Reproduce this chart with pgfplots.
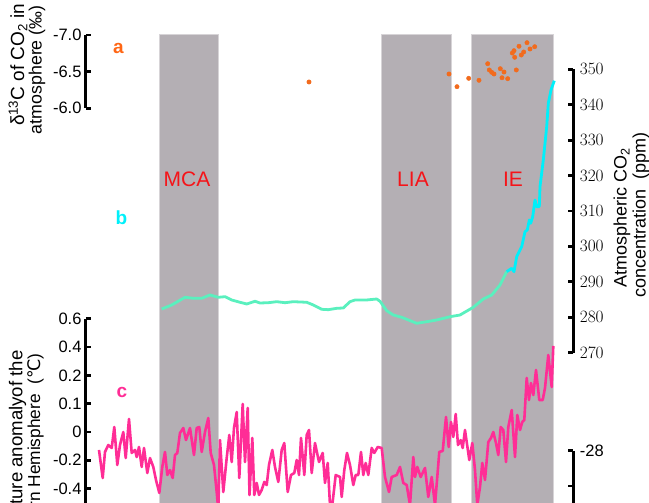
\documentclass[border=0pt]{standalone}
\usepackage{fontspec}
\setmainfont{Liberation Sans}
\newfontfamily\dejavu{DejaVu Sans}
\usepackage{pgfplots}
\pgfplotsset{compat=1.18}
\definecolor{bandgray}{RGB}{180,175,180}
\definecolor{bandedge}{RGB}{215,212,215}
\definecolor{labred}{RGB}{245,20,25}
\definecolor{dotorange}{RGB}{242,107,29}
\definecolor{labelorange}{RGB}{255,102,20}
\definecolor{co2cyan}{RGB}{0,240,250}
\definecolor{co2mint}{RGB}{90,240,190}
\definecolor{tpink}{RGB}{255,45,150}
\pgfplotsset{
  base/.style={scale only axis, enlargelimits=false, clip=false, axis x line=none,
    anchor=south west,
    tick align=inside, major tick length=5.5pt,
    every tick/.style={black, line width=2.8pt},
    axis line style={line width=3pt, black},
    every inner y axis line/.append style={line width=3pt, black},
    every outer y axis line/.append style={line width=3pt, black},
    y axis line style={line width=3pt, black},
    tick label style={font=\fontsize{16.5}{16.5}\selectfont},
    scaled y ticks=false}
}
\begin{document}
\begin{tikzpicture}
\useasboundingbox (0,0) rectangle (649pt,503pt);
\clip (0,0) rectangle (649pt,503pt);
% background: bands and labels
\begin{axis}[at={(0pt,0pt)}, anchor=south west, scale only axis, width=649pt, height=503pt,
  xmin=0, xmax=649, ymin=0, ymax=503, hide axis, clip=false]
\draw[fill=bandgray, draw=bandedge, line width=0.8pt] (axis cs:159.3,-5) rectangle (axis cs:218.3,469);
\draw[fill=bandgray, draw=bandedge, line width=0.8pt] (axis cs:381,-5) rectangle (axis cs:451,469);
\draw[fill=bandgray, draw=bandedge, line width=0.8pt] (axis cs:471.7,-5) rectangle (axis cs:553.3,469);
\node[labred, font=\fontsize{21}{21}\selectfont, anchor=base] at (axis cs:187,316) {MCA};
\node[labred, font=\fontsize{21}{21}\selectfont, anchor=base] at (axis cs:413,316) {LIA};
\node[labred, font=\fontsize{21}{21}\selectfont, anchor=base] at (axis cs:513,316) {IE};
\node[labelorange, font=\fontsize{19}{19}\selectfont\bfseries, anchor=base] at (axis cs:118.5,449) {a};
\node[co2cyan, font=\fontsize{19}{19}\selectfont\bfseries, anchor=base] at (axis cs:121.5,278) {b};
\node[tpink, font=\fontsize{19}{19}\selectfont\bfseries, anchor=base] at (axis cs:122,105) {c};
\node[rotate=90, anchor=east, font=\fontsize{19}{19}\selectfont] at (axis cs:18,503) {δ\textsuperscript{13}C of CO\textsubscript{2} in};
\node[rotate=90, anchor=east, font=\fontsize{17.8}{17.8}\selectfont] at (axis cs:37,501) {atmosphere (‰)};
\node[rotate=90, font=\fontsize{18}{18}\selectfont] at (axis cs:622,285.5) {Atmospheric CO\textsubscript{2}};
\node[rotate=90, font=\fontsize{18}{18}\selectfont] at (axis cs:641,288) {concentration\ \ (ppm)};
\node[rotate=90, anchor=east, font=\fontsize{18.6}{18.6}\selectfont] at (axis cs:17.5,156) {Temperature anomalyof the};
\node[rotate=90, anchor=east, font=\fontsize{17.3}{17.3}\selectfont] at (axis cs:35.5,153) {Northern Hemisphere\ \ ({\dejavu ℃})};
\end{axis}
% (a) delta13C
\begin{axis}[base, at={(86pt,394.7pt)}, width=563pt, height=73.3pt,
  xmin=86, xmax=649, ymin=-7, ymax=-6, y dir=reverse, axis y line*=left,
  ytick={-7,-6.5,-6}, yticklabels={-7.0,-6.5,-6.0},
  yticklabel style={xshift=-1pt}]
\addplot[only marks, mark=*, mark size=2.2pt, color=dotorange] coordinates {
(309,-6.359)(449,-6.468)(457,-6.295)(468.7,-6.409)(479,-6.382)(487.7,-6.608)
(489.3,-6.523)(491.7,-6.491)(494,-6.468)(500.3,-6.540)(504,-6.495)(502,-6.417)
(507.7,-6.404)(516.3,-6.523)(512.3,-6.754)(514,-6.786)(514.7,-6.696)(519,-6.846)
(521.3,-6.727)(523.7,-6.768)(527,-6.895)(530,-6.809)(534.7,-6.840)};
\end{axis}
% (b) CO2
\begin{axis}[base, at={(0pt,150.3pt)}, width=573.3pt, height=283.4pt,
  xmin=0, xmax=573.3, ymin=270, ymax=350, axis y line*=right,
  ytick={270,280,...,350}, yticklabel style={xshift=3pt}]
\addplot[co2mint, line width=2.8pt, line join=round, mark=none] coordinates {
(161.7,282.34)(171.7,283.47)(185,285.64)(193.3,285.36)(201.7,285.36)(210,286.29)
(218.3,285.64)(225,285.81)(231.7,284.88)(240,284.23)(246.7,283.75)(255,284.51)
(260,284.03)(268.3,284.11)(276.7,284.40)(285,284.11)(293.3,284.40)(306.7,284.23)
(313.3,283.47)(321.7,282.25)(328.3,282.14)(336.7,282.53)(343.3,282.62)(350,284.40)
(355,284.88)(366.7,284.88)(376.7,285.16)(380,284.51)(386.7,281.86)(393.3,280.64)
(401.7,279.99)(416.7,278.30)(426.7,278.75)(436.7,279.23)(450,280.16)(460,280.64)
(473.3,282.82)(483.3,285.16)(491.7,286.29)(500,289.11)(506.7,292.87)};
\addplot[co2cyan, line width=2.8pt, line join=round, mark=none] coordinates {
(506.7,292.87)(511.7,293.82)(514,292.87)(516.7,297.10)(521.7,299.92)(525,304.16)
(527.3,304.64)(529.3,307.46)(530.7,306.53)(532.7,308.39)(535,313.10)(536.7,311.21)
(539.3,311.21)(540,316.86)(543.3,324.40)(546.7,333.80)(548.3,340.40)(551,344.16)
(554.3,346.78)};
\end{axis}
% (c) NH temperature anomaly
\begin{axis}[base, at={(86pt,0pt)}, width=563pt, height=184.2pt,
  xmin=86, xmax=649, ymin=-0.5018, ymax=0.8, axis y line*=left,
  ytick={-0.4,-0.2,0,0.2,0.4,0.6,0.8}, yticklabels={-0.4,-0.2,0,0.1,0.2,0.4,0.6},
  yticklabel style={xshift=-1pt}]
\addplot[tpink, line width=2.6pt, line join=round, mark=none] coordinates {
(99,-0.127)(102.7,-0.325)(105,-0.141)(108.3,-0.092)(111.7,-0.113)(114.3,0.035)
(117.3,-0.233)(120,-0.092)(123.3,0)(125.7,-0.184)(129,0.092)(131.7,-0.148)
(135,-0.127)(136.7,-0.177)(139,-0.106)(141.7,-0.247)(144,-0.113)(147.3,-0.290)
(150,-0.184)(153.3,-0.247)(156,-0.339)(159.3,-0.431)(162.3,-0.247)(165,-0.141)
(167.3,-0.304)(170,-0.269)(172.7,-0.325)(175,-0.163)(177.3,-0.148)(180,-0.007)
(183.3,0.028)(186,-0.057)(190,0.028)(194,-0.163)(196.7,0.028)(199.3,0.035)
(201.7,-0.141)(205,0)(208.3,0.099)(210.7,-0.148)(214,-0.233)(216.7,-0.424)
(218.3,-0.551)(220,-0.057)(223.3,-0.424)(226.7,-0.184)(229.3,-0.021)(231.7,-0.212)
(234,0.028)(236.7,0.141)(239.3,-0.325)(242.7,0.198)(245,-0.212)(247.7,0.170)
(249.5,-0.445)(252.3,-0.042)(254.3,-0.445)(256.7,-0.360)(259,-0.445)(261.7,-0.410)
(264.3,-0.353)(266.7,-0.375)(269,-0.233)(272.3,-0.127)(275,-0.247)(278.3,-0.353)
(281.7,-0.127)(284.3,-0.078)(287.7,-0.424)(291,-0.304)(294.3,-0.290)(296.7,-0.198)
(299,-0.304)(301,-0.042)(304.3,-0.304)(306.7,-0.021)(309,0.014)(311.7,-0.290)
(315,-0.078)(319,-0.212)(322.7,-0.148)(325,-0.360)(327.7,-0.219)(330,-0.516)
(332.3,-0.516)(335.7,-0.304)(340,-0.318)(341.7,-0.459)(344.3,-0.269)(347,-0.148)
(350,-0.233)(353.3,-0.375)(355.7,-0.304)(358.3,-0.304)(361,-0.141)(363.3,-0.304)
(365.7,-0.219)(368.3,-0.304)(371.7,-0.113)(374.3,-0.148)(377.7,-0.106)(381.7,-0.113)
(385,-0.318)(389,-0.424)(391.7,-0.318)(396.7,-0.304)(400,-0.247)(403.3,-0.360)
(406.7,-0.375)(410,-0.516)(413.3,-0.177)(415,-0.318)(417.3,-0.247)(420.7,-0.318)
(425,-0.254)(428.3,-0.459)(431.7,-0.318)(435,-0.516)(439.3,-0.141)(442.7,-0.134)
(446,0.106)(448.7,-0.106)(451,0.071)(453.3,-0.035)(455.7,0.127)(458,-0.092)
(460.7,-0.057)(462.7,-0.113)(465,0.014)(469.3,-0.198)(472.3,-0.078)(475,-0.269)
(477.3,-0.516)(480,-0.389)(482.3,-0.219)(485,-0.339)(488.3,-0.071)(491,-0.042)
(493.3,0)(496,-0.078)(498.3,-0.163)(500.7,0.035)(503.3,0.014)(506,-0.212)
(508.3,0.035)(511.7,0.155)(515,-0.177)(517.3,0.120)(520,0.014)(522.3,0.071)
(524.3,0.085)(526.7,0.382)(529,0.226)(531,0.346)(533.3,0.261)(536,0.438)
(539.3,0.226)(542.7,0.226)(545,0.311)(548.3,0.544)(551.7,0.318)(553.3,0.608)};
\end{axis}
% (d) partial axis at bottom right
\begin{axis}[base, at={(0pt,0pt)}, width=573.3pt, height=52.3pt,
  xmin=0, xmax=573.3, ymin=-29.48, ymax=-28, axis y line*=right,
  ytick={-29,-28}, yticklabels={,-28}, yticklabel style={xshift=3pt}]
\addplot[draw=none, mark=none] coordinates {(0,-28)};
\end{axis}
\end{tikzpicture}
\end{document}
